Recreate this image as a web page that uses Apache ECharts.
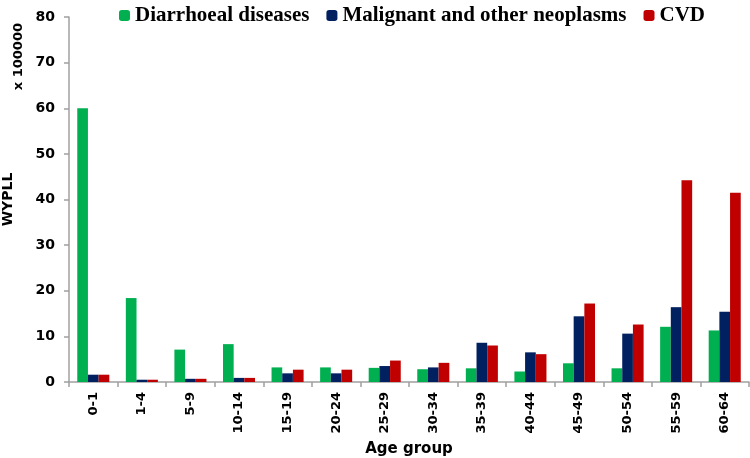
<!DOCTYPE html>
<html><head><meta charset="utf-8">
<script src="https://cdn.jsdelivr.net/npm/echarts@6/dist/echarts.min.js"></script>
<style>html,body{margin:0;padding:0;background:#fff}#c{width:750px;height:458px}</style>
</head><body><div id="c"></div>
<script>
const categories = ['0-1','1-4','5-9','10-14','15-19','20-24','25-29','30-34','35-39','40-44','45-49','50-54','55-59','60-64'];
const diarrhoeal = [60, 18.4, 7.1, 8.3, 3.2, 3.2, 3.1, 2.8, 3.0, 2.3, 4.1, 3.0, 12.1, 11.3];
const neoplasms = [1.6, 0.5, 0.7, 0.9, 1.9, 1.9, 3.5, 3.2, 8.6, 6.5, 14.4, 10.6, 16.4, 15.4];
const cvd = [1.6, 0.5, 0.7, 0.9, 2.7, 2.7, 4.7, 4.2, 8.0, 6.1, 17.2, 12.6, 44.2, 41.5];
const yTicks = [0, 10, 20, 30, 40, 50, 60, 70, 80];

const chart = echarts.init(document.getElementById('c'));
const sans = 'DejaVu Sans';
chart.setOption({
  animation: false,
  legend: {
    top: 0, left: 114,
    itemWidth: 11, itemHeight: 11, itemGap: 17,
    textStyle: {fontFamily: 'Liberation Serif', fontWeight: 'bold', fontSize: 21, color: '#000'},
    data: ['Diarrhoeal diseases', 'Malignant and other neoplasms', 'CVD']
  },
  grid: {left: 69, right: 1, top: 17, bottom: 76, containLabel: false, outerBoundsMode: 'none'},
  xAxis: {
    type: 'category', data: categories,
    name: 'Age group', nameLocation: 'middle', nameGap: 58,
    nameTextStyle: {fontFamily: sans, fontWeight: 'bold', fontSize: 15, color: '#000'},
    axisLine: {lineStyle: {color: '#a0a0a0', width: 1.5}},
    axisTick: {show: true, length: 5, lineStyle: {color: '#a0a0a0', width: 1.5}},
    axisLabel: {rotate: 90, fontFamily: sans, fontWeight: 'bold', fontSize: 13, color: '#000', margin: 10}
  },
  yAxis: {
    type: 'value', min: 0, max: 80, interval: 10,
    name: 'WYPLL', nameLocation: 'middle', nameGap: 54, nameRotate: 90,
    nameTextStyle: {fontFamily: sans, fontWeight: 'bold', fontSize: 14, color: '#000'},
    axisLine: {show: true, lineStyle: {color: '#a0a0a0', width: 1.5}},
    axisTick: {show: true, length: 5, lineStyle: {color: '#a0a0a0', width: 1.5}},
    splitLine: {show: false},
    axisLabel: {fontFamily: sans, fontWeight: 'bold', fontSize: 14, color: '#000', margin: 14,
      formatter: v => yTicks.includes(v) ? String(v) : ''}
  },
  graphic: [{
    type: 'text', left: 12, top: 23, rotation: Math.PI / 2,
    style: {text: 'x 100000', fontFamily: sans, fontWeight: 'bold', fontSize: 13, fill: '#000'}
  }],
  series: [
    {name: 'Diarrhoeal diseases', type: 'bar', data: diarrhoeal, itemStyle: {color: '#00B050'}, barGap: '0%', barCategoryGap: '34%'},
    {name: 'Malignant and other neoplasms', type: 'bar', data: neoplasms, itemStyle: {color: '#002060'}},
    {name: 'CVD', type: 'bar', data: cvd, itemStyle: {color: '#C00000'}}
  ]
});
</script></body></html>
